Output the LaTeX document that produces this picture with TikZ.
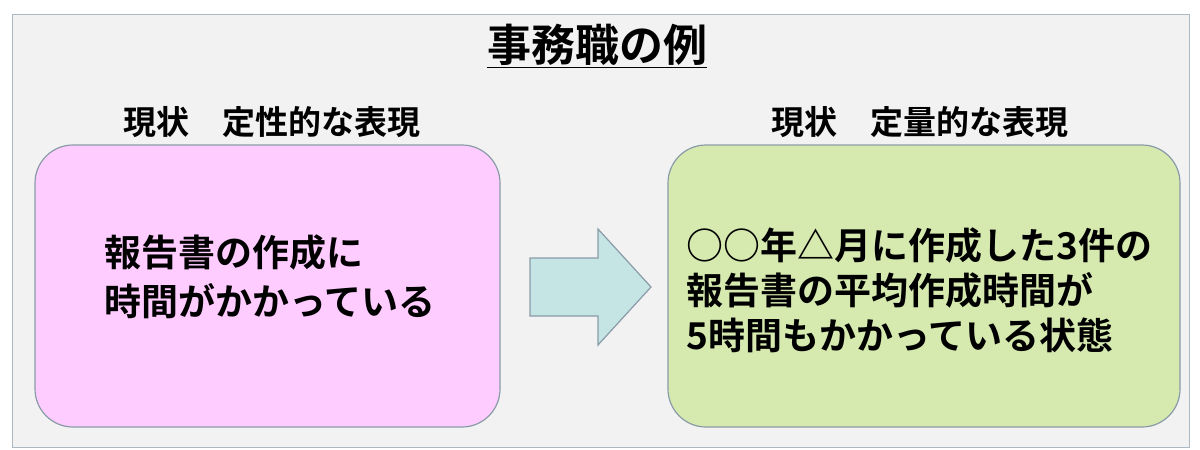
\documentclass[tikz,border=0pt]{standalone}
\usepackage{fontspec}
\newfontfamily\jp{Noto Sans CJK JP Bold}
\definecolor{bg}{HTML}{F2F2F2}
\definecolor{pinkf}{HTML}{FFCCFF}
\definecolor{greenf}{HTML}{D6EAB0}
\definecolor{arrowf}{HTML}{C5E4E4}
\definecolor{edge}{HTML}{8A9BA8}
\begin{document}
\begin{tikzpicture}[x=1pt,y=-1pt,
  box/.style={draw=edge,line width=1.2pt,rounded corners=38pt},
  txt/.style={align=left,anchor=west,inner sep=0}]
\useasboundingbox (0,0) rectangle (1200,450);
\draw[fill=bg,draw=edge!70] (12,14) rectangle (1189,447);
\node[font=\jp\fontsize{44}{48}\selectfont] (title) at (597,46) {\underline{事務職の例}};
\node[font=\jp\fontsize{33}{36}\selectfont] (s1) at (272,122) {現状　定性的な表現};
\node[font=\jp\fontsize{33}{36}\selectfont] (s2) at (920,122) {現状　定量的な表現};
\draw[box,fill=pinkf] (35,145) rectangle (500,427);
\draw[box,fill=greenf] (668,145) rectangle (1180,427);
\node[txt,font=\jp\fontsize{37}{49}\selectfont] (l) at (104,277) {報告書の作成に\\時間がかかっている};
\node[txt,font=\jp\fontsize{37}{45}\selectfont] (r) at (686,290) {○○年△月に作成した3件の\\報告書の平均作成時間が\\5時間もかかっている状態};
\draw[draw=edge,line width=1.2pt,fill=arrowf] (530,258) -- (598,258) -- (598,229) -- (651,287) -- (598,345) -- (598,316) -- (530,316) -- cycle;
\end{tikzpicture}
\end{document}
